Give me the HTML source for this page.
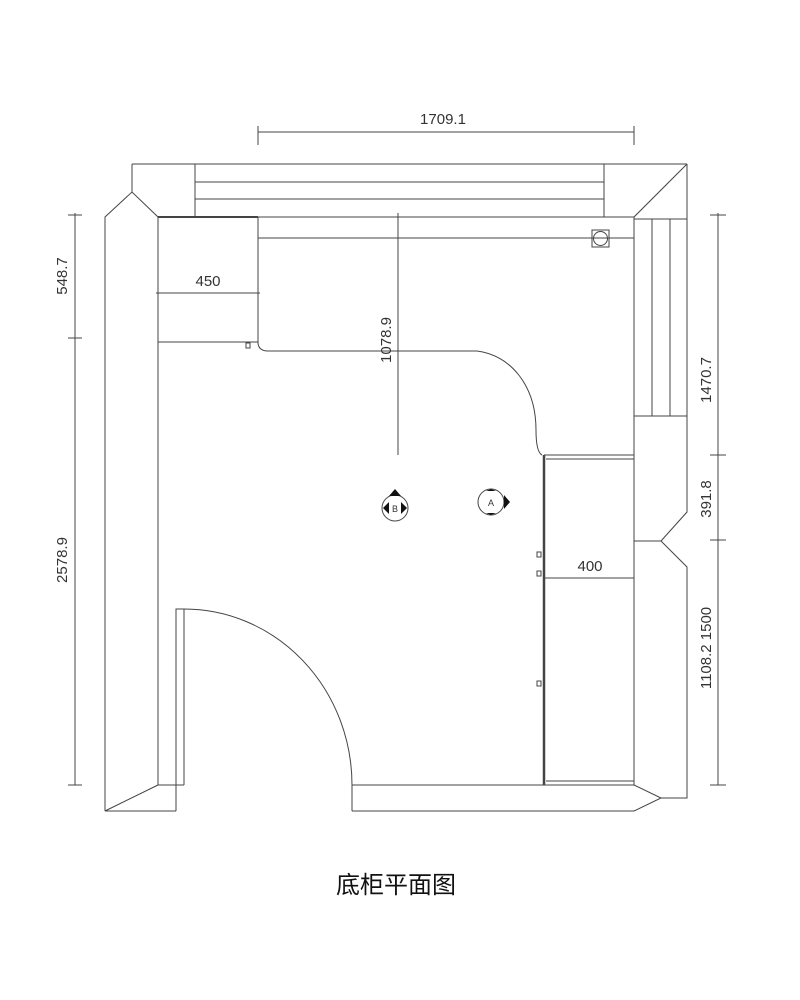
<!DOCTYPE html>
<html><head><meta charset="utf-8"><style>
html,body{margin:0;padding:0;background:#fff;width:800px;height:1000px;overflow:hidden}
svg{display:block}
text{font-family:"Liberation Sans","Noto Sans CJK SC",sans-serif;fill:#333}
</style></head><body>
<svg width="800" height="1000" viewBox="0 0 800 1000" xmlns="http://www.w3.org/2000/svg">
<g fill="none" stroke="#444" stroke-width="1">
<!-- top wall -->
<line x1="132" y1="164" x2="687" y2="164"/>
<line x1="195" y1="182" x2="604" y2="182"/>
<line x1="195" y1="199" x2="604" y2="199"/>
<line x1="158" y1="217" x2="634" y2="217"/>
<line x1="195" y1="164" x2="195" y2="217"/>
<line x1="604" y1="164" x2="604" y2="217"/>
<line x1="132" y1="164" x2="132" y2="192"/>
<polyline points="105,811 105,217 132,192 158,217 158,785"/>
<line x1="687" y1="164" x2="634" y2="217"/>
<!-- right wall -->
<polyline points="687,164 687,512 661,541 687,567 687,798 661,798"/>
<line x1="634" y1="217" x2="634" y2="785"/>
<line x1="634" y1="541" x2="661" y2="541"/>
<line x1="634" y1="219" x2="687" y2="219"/>
<line x1="652" y1="219" x2="652" y2="416"/>
<line x1="670" y1="219" x2="670" y2="416"/>
<line x1="634" y1="416" x2="687" y2="416"/>
<polyline points="634,785 661,798 634,811"/>
<!-- bottom wall -->
<line x1="352" y1="785" x2="634" y2="785"/>
<line x1="352" y1="811" x2="634" y2="811"/>
<line x1="352" y1="785" x2="352" y2="811"/>
<line x1="105" y1="811" x2="176" y2="811"/>
<line x1="158" y1="785" x2="105" y2="811"/>
<line x1="158" y1="785" x2="184" y2="785"/>
<polyline points="176,811 176,609 184,609 184,785"/>
<path d="M184,609 A168,176 0 0 1 352,785"/>
<!-- left cabinet -->
<line x1="158" y1="217" x2="258" y2="217" stroke-width="2"/>
<line x1="158" y1="342" x2="258" y2="342"/>
<path d="M258,217 L258,342 Q258,351 268,351 L477,351 C510,355 536,385 536,430 Q536,452 542,455"/>
<line x1="258" y1="238" x2="634" y2="238"/>
<rect x="592" y="230" width="17" height="17"/>
<circle cx="600.5" cy="238.5" r="7"/>
<rect x="246" y="343" width="4" height="5"/>
<!-- right cabinet -->
<line x1="544" y1="455" x2="544" y2="785" stroke-width="2.5"/>
<line x1="544" y1="455" x2="634" y2="455"/>
<line x1="546" y1="459" x2="634" y2="459"/>
<line x1="546" y1="781" x2="634" y2="781"/>
<rect x="537" y="552" width="4" height="5"/>
<rect x="537" y="571" width="4" height="5"/>
<rect x="537" y="681" width="4" height="5"/>
<!-- symbols -->
<circle cx="395" cy="508" r="13"/>
<circle cx="491" cy="502" r="13"/>
<!-- dims -->
<line x1="258" y1="132" x2="634" y2="132"/>
<line x1="258" y1="126" x2="258" y2="145"/>
<line x1="634" y1="126" x2="634" y2="145"/>
<line x1="156" y1="293" x2="260" y2="293"/>
<line x1="398" y1="213" x2="398" y2="455"/>
<line x1="544" y1="578" x2="634" y2="578"/>
<line x1="75" y1="213" x2="75" y2="785"/>
<line x1="68" y1="215" x2="82" y2="215"/>
<line x1="68" y1="338" x2="82" y2="338"/>
<line x1="68" y1="785" x2="82" y2="785"/>
<line x1="718" y1="213" x2="718" y2="785"/>
<line x1="710" y1="215" x2="726" y2="215"/>
<line x1="710" y1="455" x2="726" y2="455"/>
<line x1="710" y1="540" x2="726" y2="540"/>
<line x1="710" y1="785" x2="726" y2="785"/>
</g>
<g fill="#111">
<polygon points="389,496 395,489 401,496"/>
<polygon points="383,508 389,502 389,514"/>
<polygon points="407,508 401,502 401,514"/>
<polygon points="491,489 486,491 496,491"/>
<polygon points="510,502 504,495 504,509"/>
<polygon points="491,515 486,513 496,513"/>
</g>
<text x="395" y="512" font-size="9" text-anchor="middle">B</text>
<text x="491" y="506" font-size="9" text-anchor="middle">A</text>
<g font-size="15" text-anchor="middle">
<text x="443" y="124">1709.1</text>
<text x="208" y="286">450</text>
<text x="590" y="571">400</text>
<text transform="translate(391,340) rotate(-90)">1078.9</text>
<text transform="translate(67,276) rotate(-90)">548.7</text>
<text transform="translate(67,560) rotate(-90)">2578.9</text>
<text transform="translate(711,380) rotate(-90)">1470.7</text>
<text transform="translate(711,499) rotate(-90)">391.8</text>
<text transform="translate(711,648) rotate(-90)">1108.2 1500</text>
</g>
<text x="396" y="893" font-size="24" text-anchor="middle" style="fill:#111">底柜平面图</text>
</svg>
</body></html>
